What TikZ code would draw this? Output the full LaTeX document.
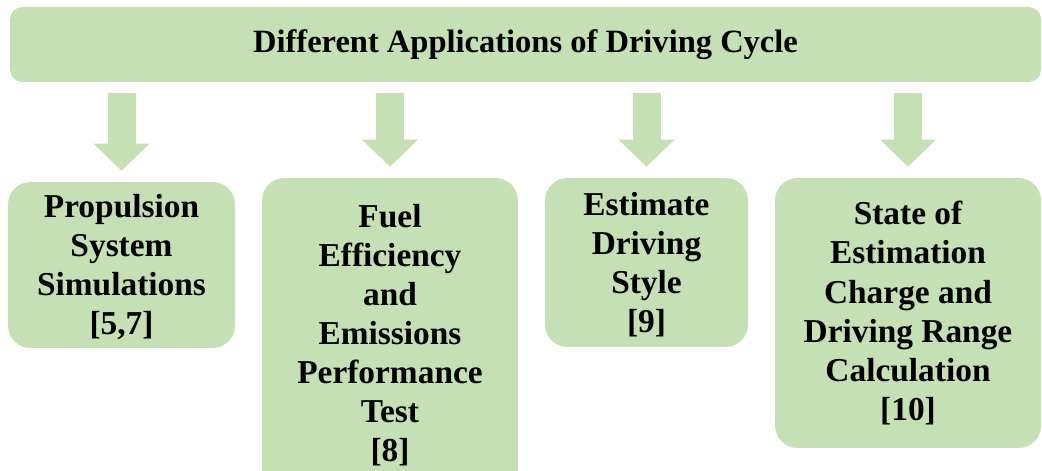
\documentclass[tikz,border=0pt]{standalone}
\usepackage{fontspec}
\setmainfont{Liberation Serif}
\usetikzlibrary{arrows.meta}
\definecolor{leafgreen}{HTML}{C5E0B4}

\begin{document}
\begin{tikzpicture}
[every node/.style={fill=leafgreen,rounded corners=0.45cm,align=center,inner sep=0pt,
  font=\bfseries\fontsize{19}{22.2}\selectfont},
title/.style={rounded corners=0.25cm,font=\bfseries\fontsize{18.5}{21}\selectfont},
push/.style={leafgreen,line width=0.56cm,shorten <=0.22cm,shorten >=0.22cm,
  -{Triangle[width=1.12cm,length=0.54cm,line width=0pt]}},
]
\useasboundingbox (0,0) rectangle (20.84,9.42);
\node[title,minimum width=20.62cm,minimum height=1.5cm] (cycle) at (10.51,8.53)
  {Different Applications of Driving Cycle};
\node[minimum width=4.54cm,minimum height=3.32cm] (sim) at (2.43,4.12)
  {\strut Propulsion\\System\\Simulations\\{[5,7]}};
\node[minimum width=5.12cm,minimum height=6.3cm] (fuel) at (7.80,2.71)
  {Fuel\\Efficiency\\and\\Emissions\\Performance\\Test\\{[8]}};
\node[minimum width=4.06cm,minimum height=3.38cm] (style) at (12.93,4.17)
  {\strut Estimate\\Driving\\Style\\{[9]}};
\node[minimum width=5.32cm,minimum height=5.4cm] (range) at (18.16,3.16)
  {State of\\Estimation\\Charge and\\Driving Range\\Calculation\\{[10]}};
% block arrows from the bar down to each box
\foreach \app in {sim,fuel,style,range}
  \draw[push] (cycle.south -| \app.north) -- (\app.north);
\end{tikzpicture}
\end{document}
